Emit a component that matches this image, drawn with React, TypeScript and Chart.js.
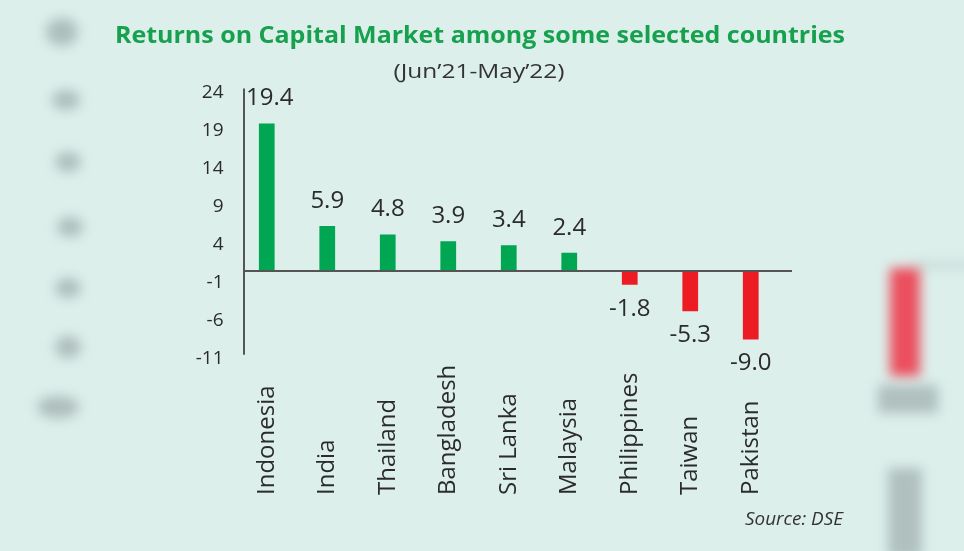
import React, { useEffect, useRef } from "react";
import { Chart, registerables } from "chart.js";

Chart.register(...registerables);

const categories = [
  "Indonesia",
  "India",
  "Thailand",
  "Bangladesh",
  "Sri Lanka",
  "Malaysia",
  "Philippines",
  "Taiwan",
  "Pakistan",
];
const returns = [19.4, 5.9, 4.8, 3.9, 3.4, 2.4, -1.8, -5.3, -9.0];
const yTicks = [24, 19, 14, 9, 4, -1, -6, -11];
const titleText = "Returns on Capital Market among some selected countries";
const subtitleText = "(Jun\u201921-May\u201922)";
const sourceText = "Source: DSE";

const GREEN = "#00a651";
const RED = "#ed1c24";
const TEXT = "#2b2b2b";
const AXIS = "#555555";
const BG = "#dcefeb";

function fitText(
  ctx: CanvasRenderingContext2D,
  text: string,
  x: number,
  y: number,
  width: number,
  align: "center" | "right" | "left"
) {
  const w = ctx.measureText(text).width;
  const s = width / w;
  ctx.save();
  ctx.translate(x, y);
  ctx.scale(s, 1);
  ctx.textAlign = align;
  ctx.fillText(text, 0, 0);
  ctx.restore();
}

const decorPlugin = {
  id: "decor",
  beforeDraw(chart: any) {
    const ctx: CanvasRenderingContext2D = chart.ctx;
    ctx.save();
    ctx.fillStyle = BG;
    ctx.fillRect(0, 0, chart.width, chart.height);
    ctx.filter = "blur(6px)";
    ctx.fillStyle = "rgba(168,184,183,0.9)";
    const leftBlobs = [
      [62, 32, 16, 14],
      [66, 100, 14, 10],
      [68, 162, 13, 10],
      [70, 227, 13, 10],
      [68, 288, 13, 10],
      [68, 347, 13, 11],
      [58, 407, 21, 11],
    ];
    leftBlobs.forEach(([x, y, rx, ry]) => {
      ctx.beginPath();
      ctx.ellipse(x, y, rx, ry, 0, 0, Math.PI * 2);
      ctx.fill();
    });
    ctx.fillStyle = "rgba(165,180,180,0.8)";
    ctx.fillRect(878, 385, 60, 28);
    ctx.fillRect(888, 468, 34, 90);
    ctx.fillStyle = "rgba(190,205,203,0.7)";
    ctx.fillRect(915, 262, 60, 6);
    ctx.fillStyle = "rgba(236,70,85,0.95)";
    ctx.fillRect(890, 268, 30, 108);
    ctx.restore();
  },
  afterDraw(chart: any) {
    const ctx: CanvasRenderingContext2D = chart.ctx;
    const xs = chart.scales.x;
    const ys = chart.scales.y;
    const area = chart.chartArea;
    const axisX = area.left + 7.5;
    const zeroY = ys.getPixelForValue(0);

    ctx.save();
    ctx.strokeStyle = AXIS;
    ctx.lineWidth = 2;
    ctx.beginPath();
    ctx.moveTo(axisX, ys.getPixelForValue(yTicks[0]));
    ctx.lineTo(axisX, ys.getPixelForValue(yTicks[yTicks.length - 1]));
    ctx.stroke();
    ctx.beginPath();
    ctx.moveTo(axisX, zeroY);
    ctx.lineTo(area.right + 11, zeroY);
    ctx.stroke();

    const meta = chart.getDatasetMeta(0);
    ctx.fillStyle = TEXT;
    ctx.font = "24px 'Open Sans'";
    ctx.textAlign = "center";
    ctx.textBaseline = "middle";
    meta.data.forEach((bar: any, i: number) => {
      const v = returns[i];
      const y = v >= 0 ? bar.y - 25 : bar.y + 24;
      ctx.fillText(v.toFixed(1), bar.x + (i === 0 ? 3 : 0), y);
    });

    ctx.font = "24px 'Open Sans'";
    ctx.textAlign = "left";
    ctx.textBaseline = "middle";
    categories.forEach((c, i) => {
      const x = xs.getPixelForValue(i);
      ctx.save();
      ctx.translate(x, 495);
      ctx.rotate(-Math.PI / 2);
      ctx.fillText(c, 0, 0);
      ctx.restore();
    });

    ctx.textBaseline = "alphabetic";
    ctx.fillStyle = "#17a14f";
    ctx.font = "bold 24px 'Open Sans'";
    fitText(ctx, titleText, 480, 43, 730, "center");

    ctx.fillStyle = "#333333";
    ctx.font = "20px 'Open Sans'";
    fitText(ctx, subtitleText, 479, 78, 171, "center");

    ctx.font = "italic 19px 'Open Sans'";
    ctx.save();
    const w = ctx.measureText(sourceText).width;
    ctx.translate(843, 525);
    ctx.scale(98 / w, 1);
    ctx.textAlign = "right";
    ctx.fillText(sourceText, 0, 0);
    ctx.restore();

    ctx.restore();
  },
};

export default function App() {
  const ref = useRef<HTMLCanvasElement | null>(null);

  useEffect(() => {
    if (!ref.current) return;
    const chart = new Chart(ref.current, {
      type: "bar",
      data: {
        labels: categories,
        datasets: [
          {
            data: returns,
            backgroundColor: returns.map((v) => (v >= 0 ? GREEN : RED)),
            borderWidth: 0,
            categoryPercentage: 1,
            barPercentage: 0.26,
          },
        ],
      },
      options: {
        responsive: false,
        animation: false,
        layout: { padding: { left: 0, top: 88.4, right: 183, bottom: 196.3 } },
        plugins: {
          legend: { display: false },
          tooltip: { enabled: false },
          title: { display: false },
        },
        scales: {
          x: {
            type: "category",
            offset: true,
            grid: { display: false, drawTicks: false },
            border: { display: false },
            ticks: { display: false },
            afterFit: (s: any) => {
              s.height = 0;
            },
          },
          y: {
            type: "linear",
            min: -11,
            max: 24,
            grid: { display: false, drawTicks: false },
            border: { display: false },
            afterBuildTicks: (s: any) => {
              s.ticks = yTicks.map((v) => ({ value: v }));
            },
            afterFit: (s: any) => {
              s.width = 236.5;
            },
            ticks: {
              padding: 13,
              labelOffset: 4,
              color: TEXT,
              font: { family: "'Open Sans'", size: 19 },
              callback: (v: any) => String(v),
            },
          },
        },
      },
      plugins: [decorPlugin],
    });
    return () => chart.destroy();
  }, []);

  return (
    <div
      style={{
        position: "absolute",
        left: 0,
        top: 0,
        width: 964,
        height: 551,
        background: BG,
        overflow: "hidden",
      }}
    >
      <canvas ref={ref} width={964} height={551} style={{ display: "block" }} />
    </div>
  );
}
